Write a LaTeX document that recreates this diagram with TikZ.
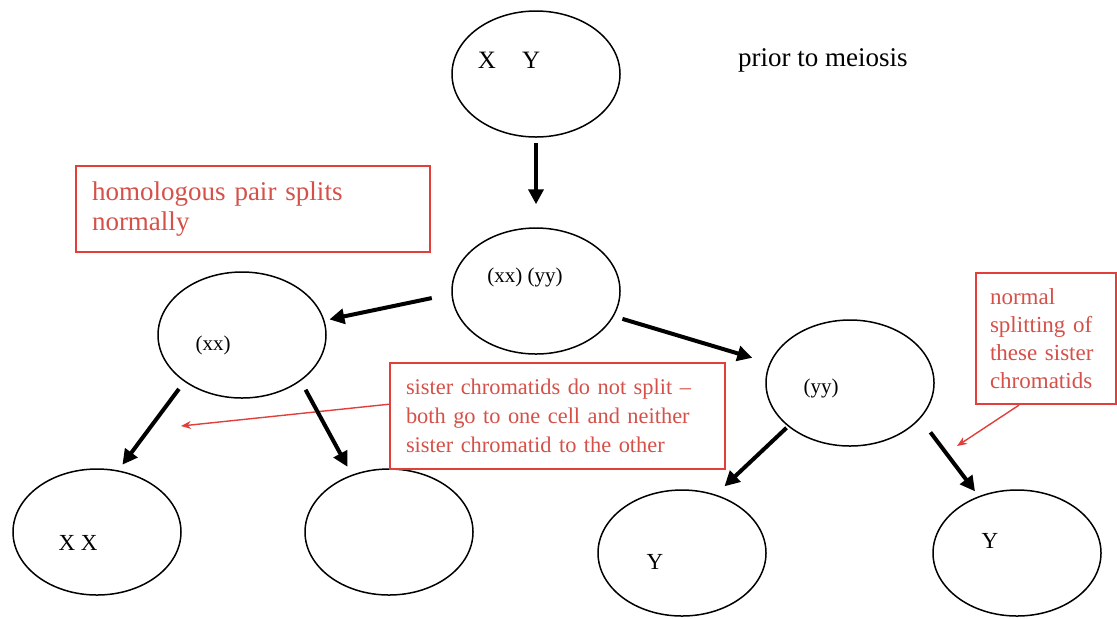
\documentclass[tikz,border=0pt]{standalone}
\usepackage{fontspec}
\setmainfont{Liberation Serif}
\usetikzlibrary{shapes.geometric,arrows.meta}
\definecolor{notered}{RGB}{226,62,58}
\definecolor{notetext}{RGB}{212,80,72}

\begin{document}
\begin{tikzpicture}
		[x=0.5pt,y=-0.5pt,
		cell/.style={shape=ellipse,draw,line width=0.75pt,minimum width=84pt,minimum height=63pt,inner sep=0pt},
		split/.style={-{Triangle[length=7.5pt,width=7.5pt]},line width=2pt},
		note/.style={draw=notered,line width=1pt,text=notetext,align=left,inner xsep=8pt,anchor=north west,font=\fontsize{11.2}{14.5}\selectfont},
		pointer/.style={draw=notered,line width=0.7pt,-{Stealth[length=5pt,width=4pt]}}]
		\useasboundingbox (0,0) rectangle (1117,618);
		%% cells
		\node[cell] (top) at (536,74) {};
		\node[cell] (mid) at (536,291) {};
		\node[cell] (left) at (242,335) {};
		\node[cell] (right) at (850,383) {};
		\node[cell] (bl) at (97,532) {};
		\node[cell] (bm) at (389,532) {};
		\node[cell] (yl) at (682,553) {};
		\node[cell] (yr) at (1017,553) {};
		%% cell contents
		\node[font=\fontsize{12.5}{14}\selectfont] (xy) at (509,60) {X\hspace{13pt}Y};
		\node[font=\fontsize{13.5}{15}\selectfont,anchor=west] (prior) at (731,60) {prior to meiosis};
		\node[font=\fontsize{10.5}{12}\selectfont] (xxyy) at (525,277) {(xx) (yy)};
		\node[font=\fontsize{10.5}{12}\selectfont] (xx) at (213,345) {(xx)};
		\node[font=\fontsize{10.5}{12}\selectfont] (yy) at (821,388) {(yy)};
		\node[font=\fontsize{11.5}{12}\selectfont] (xxpair) at (78,543) {X X};
		\node[font=\fontsize{11.5}{12}\selectfont] (yone) at (655,562) {Y};
		\node[font=\fontsize{11.5}{12}\selectfont] (ytwo) at (990,541) {Y};
		%% notes
		\node[note,text width=161pt,minimum height=43pt,font=\fontsize{13.5}{15}\selectfont] (homol) at (75,165)
			{homologous pair splits\\normally};
		\node[note,text width=151.5pt,minimum height=53pt] (sister) at (389,362)
			{sister chromatids do not split –\\both go to one cell and neither\\sister chromatid to the other};
		\node[note,inner xsep=7pt,text width=56pt,minimum height=65.5pt,font=\fontsize{11.5}{14}\selectfont] (normal) at (975,272)
			{normal\\splitting of\\these sister\\chromatids};
		\coordinate (sisterend) at (181,426);
		\coordinate (normalend) at (957,446);
		\draw[pointer] (sister.176) -- (sisterend);
		\draw[pointer] (normal.248) -- (normalend);
		%% divisions
		\path
		\foreach \startNode/\endNode/\gapA/\gapB in {top.south/mid.north/2.5pt/11.5pt,
			mid.182/left.10/10pt/2.5pt, mid.-18/right.166/4.5pt/9pt,
			left.219/bl.71/4.5pt/3.5pt, left.-38/bm.123/5pt/4.5pt,
			right.215/yl.60/1pt/6pt, right.-27/yr.124/8.5pt/3pt}
		{
			(\startNode) edge[split,shorten <=\gapA,shorten >=\gapB] (\endNode)
		};
\end{tikzpicture}
\end{document}
